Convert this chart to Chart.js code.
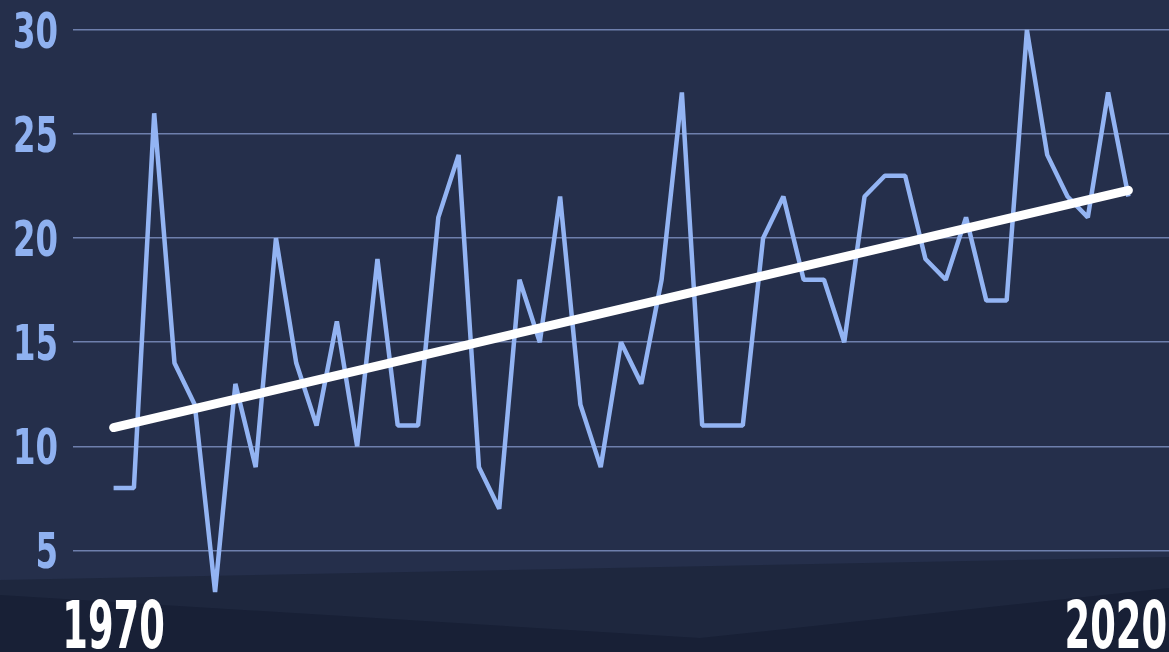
<!DOCTYPE html>
<html>
<head>
<meta charset="utf-8">
<title>Yearly values 1970–2020</title>
<script src="https://cdn.jsdelivr.net/npm/chart.js@4.4.1/dist/chart.umd.min.js"></script>
<style>
  html, body { margin: 0; padding: 0; }
  body { width: 1169px; height: 652px; overflow: hidden; position: relative; background: #252f4b; }
  .band { position: absolute; left: 0; top: 0; width: 1169px; height: 652px; }
  .band.mid { background: #1e273e; clip-path: polygon(0 580px, 1169px 557px, 1169px 652px, 0 652px); }
  .band.low { background: #182036; clip-path: polygon(0 595px, 700px 638px, 1169px 588px, 1169px 652px, 0 652px); }
  #chart { position: absolute; left: 0; top: 0; }
</style>
</head>
<body>
<div class="band mid"></div>
<div class="band low"></div>
<canvas id="chart" width="1169" height="652"></canvas>
<script>
// yearly values, 1970 through 2020
const firstYear = 1970;
const values = [
  8, 8, 26, 14, 12, 3, 13, 9, 20, 14,
  11, 16, 10, 19, 11, 11, 21, 24, 9, 7,
  18, 15, 22, 12, 9, 15, 13, 18, 27, 11,
  11, 11, 20, 22, 18, 18, 15, 22, 23, 23,
  19, 18, 21, 17, 17, 30, 24, 22, 21, 27,
  22
];
const years = values.map((v, i) => firstYear + i);

// straight trend line, value at first and last year
const trendYears = [1970, 2020];
const trendValues = [10.9, 22.3];

const yTicks = [5, 10, 15, 20, 25, 30];
const xLabels = [1970, 2020];

const condensed = '"DejaVu Sans Condensed", "DejaVu Sans", sans-serif';

// draws text squeezed horizontally to mimic a narrow display face
function squeezedText(ctx, text, x, y, squeeze, align) {
  const w = ctx.measureText(text).width * squeeze;
  let left = x;
  if (align === 'center') left = x - w / 2;
  if (align === 'right') left = x - w;
  ctx.save();
  ctx.translate(left, y);
  ctx.scale(squeeze, 1);
  ctx.textAlign = 'left';
  ctx.fillText(text, 0, 0);
  ctx.restore();
  return w;
}

// axis labels: light blue values on the left, big white years underneath
const axisLabels = {
  id: 'axisLabels',
  afterDraw(chart) {
    const { ctx, scales: { x, y } } = chart;
    ctx.save();
    ctx.textBaseline = 'alphabetic';

    ctx.font = 'bold 50px ' + condensed;
    ctx.fillStyle = '#8fb1f0';
    yTicks.forEach(v => {
      squeezedText(ctx, String(v), y.right - 15, y.getPixelForValue(v) + 18, 0.72, 'right');
    });

    ctx.font = 'bold 66px ' + condensed;
    ctx.fillStyle = '#ffffff';
    const squeeze = 0.62;
    xLabels.forEach(year => {
      const text = String(year);
      const half = ctx.measureText(text).width * squeeze / 2;
      let cx = x.getPixelForValue(year);
      cx = Math.min(cx, chart.width - 2 - half);
      cx = Math.max(cx, half + 2);
      squeezedText(ctx, text, cx, 648, squeeze, 'center');
    });
    ctx.restore();
  }
};

const ctx = document.getElementById('chart').getContext('2d');
new Chart(ctx, {
  type: 'line',
  data: {
    datasets: [{
      label: 'Trend',
      data: trendYears.map((yr, i) => ({ x: yr, y: trendValues[i] })),
      borderColor: '#ffffff',
      borderWidth: 9,
      borderCapStyle: 'round',
      pointRadius: 0,
      clip: false,
      order: 0
    }, {
      label: 'Values',
      data: years.map((yr, i) => ({ x: yr, y: values[i] })),
      borderColor: '#93b4f3',
      borderWidth: 4.5,
      borderJoinStyle: 'bevel',
      pointRadius: 0,
      tension: 0,
      clip: false,
      order: 1
    }]
  },
  options: {
    responsive: false,
    animation: false,
    devicePixelRatio: 1,
    layout: { padding: { top: 30, bottom: 60, left: 0, right: 0 } },
    plugins: {
      legend: { display: false },
      tooltip: { enabled: false }
    },
    scales: {
      x: {
        type: 'linear',
        display: false,
        min: 1968,
        max: 2022
      },
      y: {
        min: 3,
        max: 30,
        afterBuildTicks: scale => { scale.ticks = yTicks.map(v => ({ value: v })); },
        afterFit: scale => { scale.width = 73; },
        grid: { color: 'rgba(135, 155, 205, 0.75)', lineWidth: 1.5, drawTicks: false },
        border: { display: false },
        ticks: { display: false }
      }
    }
  },
  plugins: [axisLabels]
});
</script>
</body>
</html>
